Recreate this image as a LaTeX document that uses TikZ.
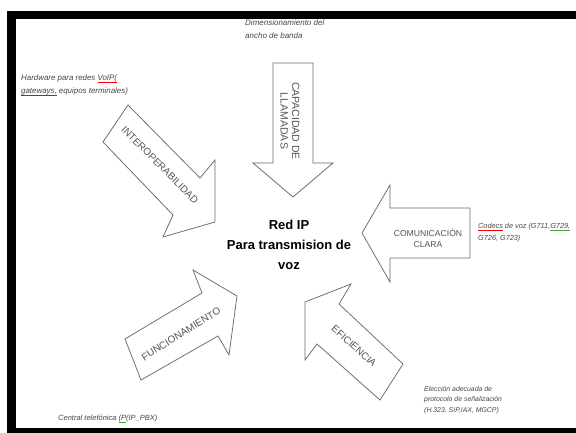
\documentclass[tikz,border=0pt]{standalone}
\usepackage{fontspec}
\setmainfont{Liberation Sans}
\usepackage{xcolor}
\usetikzlibrary{calc}
\definecolor{linegray}{HTML}{6A6A6A}
\definecolor{labelgray}{HTML}{555555}
\definecolor{notegray}{HTML}{474747}
\definecolor{grammargreen}{HTML}{3FA535}
\newsavebox{\markbox}
\newcommand{\spellmark}[2]{\sbox{\markbox}{#2}\rlap{\color{#1}\rule[-1.6pt]{\wd\markbox}{0.5pt}}\usebox{\markbox}}
\tikzset{
	bigarrow/.style={draw=linegray, line width=0.75pt, fill=white, line join=miter},
	arrowlabel/.style={text=labelgray, font=\fontsize{10}{11}\selectfont, align=center, inner sep=0pt},
	note/.style={text=notegray, font=\fontsize{7.5}{12}\selectfont\itshape, align=left, anchor=north west, inner sep=0pt},
	centre/.style={font=\fontsize{13}{20}\selectfont\bfseries, align=center, inner sep=0pt}
}

\begin{document}
\begin{tikzpicture}[x=1pt, y=-1pt]
	\useasboundingbox (0,0) rectangle (576,433);
	\fill[black] (7,11) rectangle (576,433);
	\fill[white] (16,19) rectangle (576,428);
	\draw[bigarrow] (273,63) -- (313,63) -- (313,163) -- (333,163) -- (293,197) -- (253,163) -- (273,163) -- cycle;
	\draw[bigarrow] (470,208) -- (390,208) -- (390,185) -- (362,233) -- (390,282) -- (390,258) -- (470,258) -- cycle;
	\draw[bigarrow] (128,105) -- (200,178) -- (215,160) -- (215,222) -- (163,237) -- (173,215) -- (103,142) -- cycle;
	\draw[bigarrow] (125,339) -- (202,293) -- (193,270) -- (237,296) -- (229,355) -- (218,336) -- (141,380) -- cycle;
	\draw[bigarrow] (403,364) -- (339,304) -- (351,284) -- (305,302) -- (305,360) -- (317,344) -- (380,400) -- cycle;
	\node[arrowlabel, rotate=-90, font=\fontsize{10.5}{11.5}\selectfont] (capacidad) at (290,121) {CAPACIDAD DE\\LLAMADAS};
	\node[arrowlabel, font=\fontsize{8.6}{11}\selectfont] (comunicacion) at (428,238) {COMUNICACIÓN\\CLARA};
	\node[arrowlabel, rotate=-45] (interop) at (160,165) {INTEROPERABILIDAD};
	\node[arrowlabel, rotate=32] (funcion) at (181,334) {FUNCIONAMIENTO};
	\node[arrowlabel, rotate=-42] (eficiencia) at (354,346) {EFICIENCIA};
	\node[centre] (redip) at (289,245) {Red IP\\Para transmision de\\voz};
	\node[note, font=\fontsize{8}{13}\selectfont\itshape] (ancho) at (245,20) {Dimensionamiento del\\ancho de banda};
	\node[note, font=\fontsize{7.9}{13}\selectfont\itshape] (hardware) at (21,75) {Hardware para redes \spellmark{red}{VoIP(}\\\spellmark{red}{gateways,} equipos terminales)};
	\node[note, font=\fontsize{7.3}{12}\selectfont\itshape] (codecs) at (478,223) {\spellmark{red}{Codecs} de voz (G711,\spellmark{grammargreen}{G729,}\\G726, G723)};
	\node[note, font=\fontsize{6.9}{10.5}\selectfont\itshape] (protocolo) at (424,386) {Elección adecuada de\\protocolo de señalización\\(H.323, SIP,IAX, MGCP)};
	\node[note] (central) at (58,415) {Central telefónica \spellmark{grammargreen}{(P}(IP\_PBX)};
\end{tikzpicture}
\end{document}
